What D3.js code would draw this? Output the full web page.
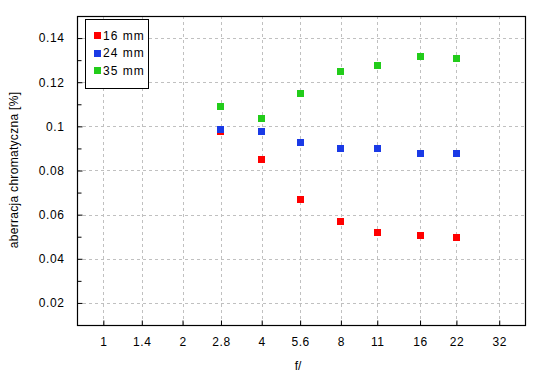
<!DOCTYPE html>
<html><head><meta charset="utf-8">
<script src="https://cdn.jsdelivr.net/npm/d3@7"></script>
<style>
body{margin:0;background:#fff;}
svg text{font-family:"Liberation Sans",Arial,sans-serif;fill:#000;}
</style></head>
<body><svg id="c" width="550" height="380"></svg>
<script>
const apertures = [2.8, 4, 5.6, 8, 11, 16, 22];
const xTicks = [1, 1.4, 2, 2.8, 4, 5.6, 8, 11, 16, 22, 32];
const yTicks = [0.02, 0.04, 0.06, 0.08, 0.1, 0.12, 0.14];
const yMinorTicks = [0.02, 0.03, 0.04, 0.05, 0.06, 0.07, 0.08, 0.09, 0.1, 0.11, 0.12, 0.13, 0.14];
const seriesNames = ["16 mm", "24 mm", "35 mm"];
const seriesColors = ["#ff0000", "#1a3ae6", "#22cc1a"];
const s16 = [0.0975, 0.0851, 0.0669, 0.0570, 0.0520, 0.0506, 0.0497];
const s24 = [0.0987, 0.0978, 0.0928, 0.0901, 0.0901, 0.0878, 0.0878];
const s35 = [0.1091, 0.1036, 0.1150, 0.1249, 0.1277, 0.1317, 0.1308];
const seriesValues = [s16, s24, s35];

const svg = d3.select("#c");
const L = 77, R = 525, T = 16, B = 325;
const x = d3.scaleLog().base(2).domain([0.794, 40.1]).range([L, R]);
const y = d3.scaleLinear().domain([0.01, 0.15]).range([B, T]);

// grid
const g = svg.append("g");
g.selectAll("line.gx").data(xTicks).enter().append("line")
  .attr("x1", d => Math.round(x(d)) + 0.5).attr("x2", d => Math.round(x(d)) + 0.5)
  .attr("y1", T).attr("y2", B)
  .attr("stroke", "#c0c0c0").attr("stroke-dasharray", "3,3");
g.selectAll("line.gy").data(yTicks).enter().append("line")
  .attr("y1", d => Math.round(y(d)) + 0.5).attr("y2", d => Math.round(y(d)) + 0.5)
  .attr("x1", L).attr("x2", R)
  .attr("stroke", "#c0c0c0").attr("stroke-dasharray", "3,3");

// axes: y
const yAxis = d3.axisLeft(y).tickValues(yTicks).tickSizeInner(-5).tickSizeOuter(0)
  .tickPadding(13).tickFormat(d => String(+d.toFixed(2)));
const ya = svg.append("g").attr("transform", `translate(${L + 0.5},0)`).call(yAxis);
ya.select(".domain").remove();
ya.selectAll("text").style("font-size", "12px").style("letter-spacing", "0.6px");
const yMinor = d3.axisLeft(y).tickValues(yMinorTicks.filter(v => !yTicks.some(t => Math.abs(t - v) < 1e-9)))
  .tickSizeInner(-4).tickSizeOuter(0).tickFormat("");
const ym = svg.append("g").attr("transform", `translate(${L + 0.5},0)`).call(yMinor);
ym.select(".domain").remove();

// x axis
const xAxis = d3.axisBottom(x).tickValues(xTicks).tickSizeInner(-5).tickSizeOuter(0)
  .tickPadding(12).tickFormat(d => String(d));
const xa = svg.append("g").attr("transform", `translate(0,${B + 0.5})`).call(xAxis);
xa.select(".domain").remove();
xa.selectAll("text").style("font-size", "12px").style("letter-spacing", "0.6px");

// frame
svg.append("rect").attr("x", L + 0.5).attr("y", T + 0.5).attr("width", R - L).attr("height", B - T)
  .attr("fill", "none").attr("stroke", "#000").attr("stroke-width", 1.2);

// points
seriesValues.forEach((vals, si) => {
  svg.append("g").selectAll("rect").data(vals).enter().append("rect")
    .attr("x", (d, i) => Math.round(x(apertures[i]) - 3.5))
    .attr("y", d => Math.round(y(d) - 3.5))
    .attr("width", 7).attr("height", 7)
    .attr("fill", seriesColors[si]);
});

// legend
const lg = svg.append("g");
lg.append("rect").attr("x", 85.5).attr("y", 19.5).attr("width", 63).attr("height", 69)
  .attr("fill", "#fff").attr("stroke", "#000");
seriesNames.forEach((n, i) => {
  const cy = 35.7 + i * 17.5;
  lg.append("rect").attr("x", 94).attr("y", Math.round(cy - 3.5)).attr("width", 7).attr("height", 7).attr("fill", seriesColors[i]);
  lg.append("text").attr("x", 103).attr("y", cy).attr("dy", "0.35em")
    .style("font-size", "12px").style("letter-spacing", "1px").text(n);
});

// labels
svg.append("text").attr("x", 298).attr("y", 366).attr("dy", "0.35em").attr("text-anchor", "middle")
  .style("font-size", "12px").text("f/");
svg.append("text").attr("transform", "translate(14,170) rotate(-90)").attr("dy", "0.35em")
  .attr("text-anchor", "middle").style("font-size", "12px").style("letter-spacing", "0.3px")
  .text("aberracja chromatyczna [%]");
</script></body></html>
